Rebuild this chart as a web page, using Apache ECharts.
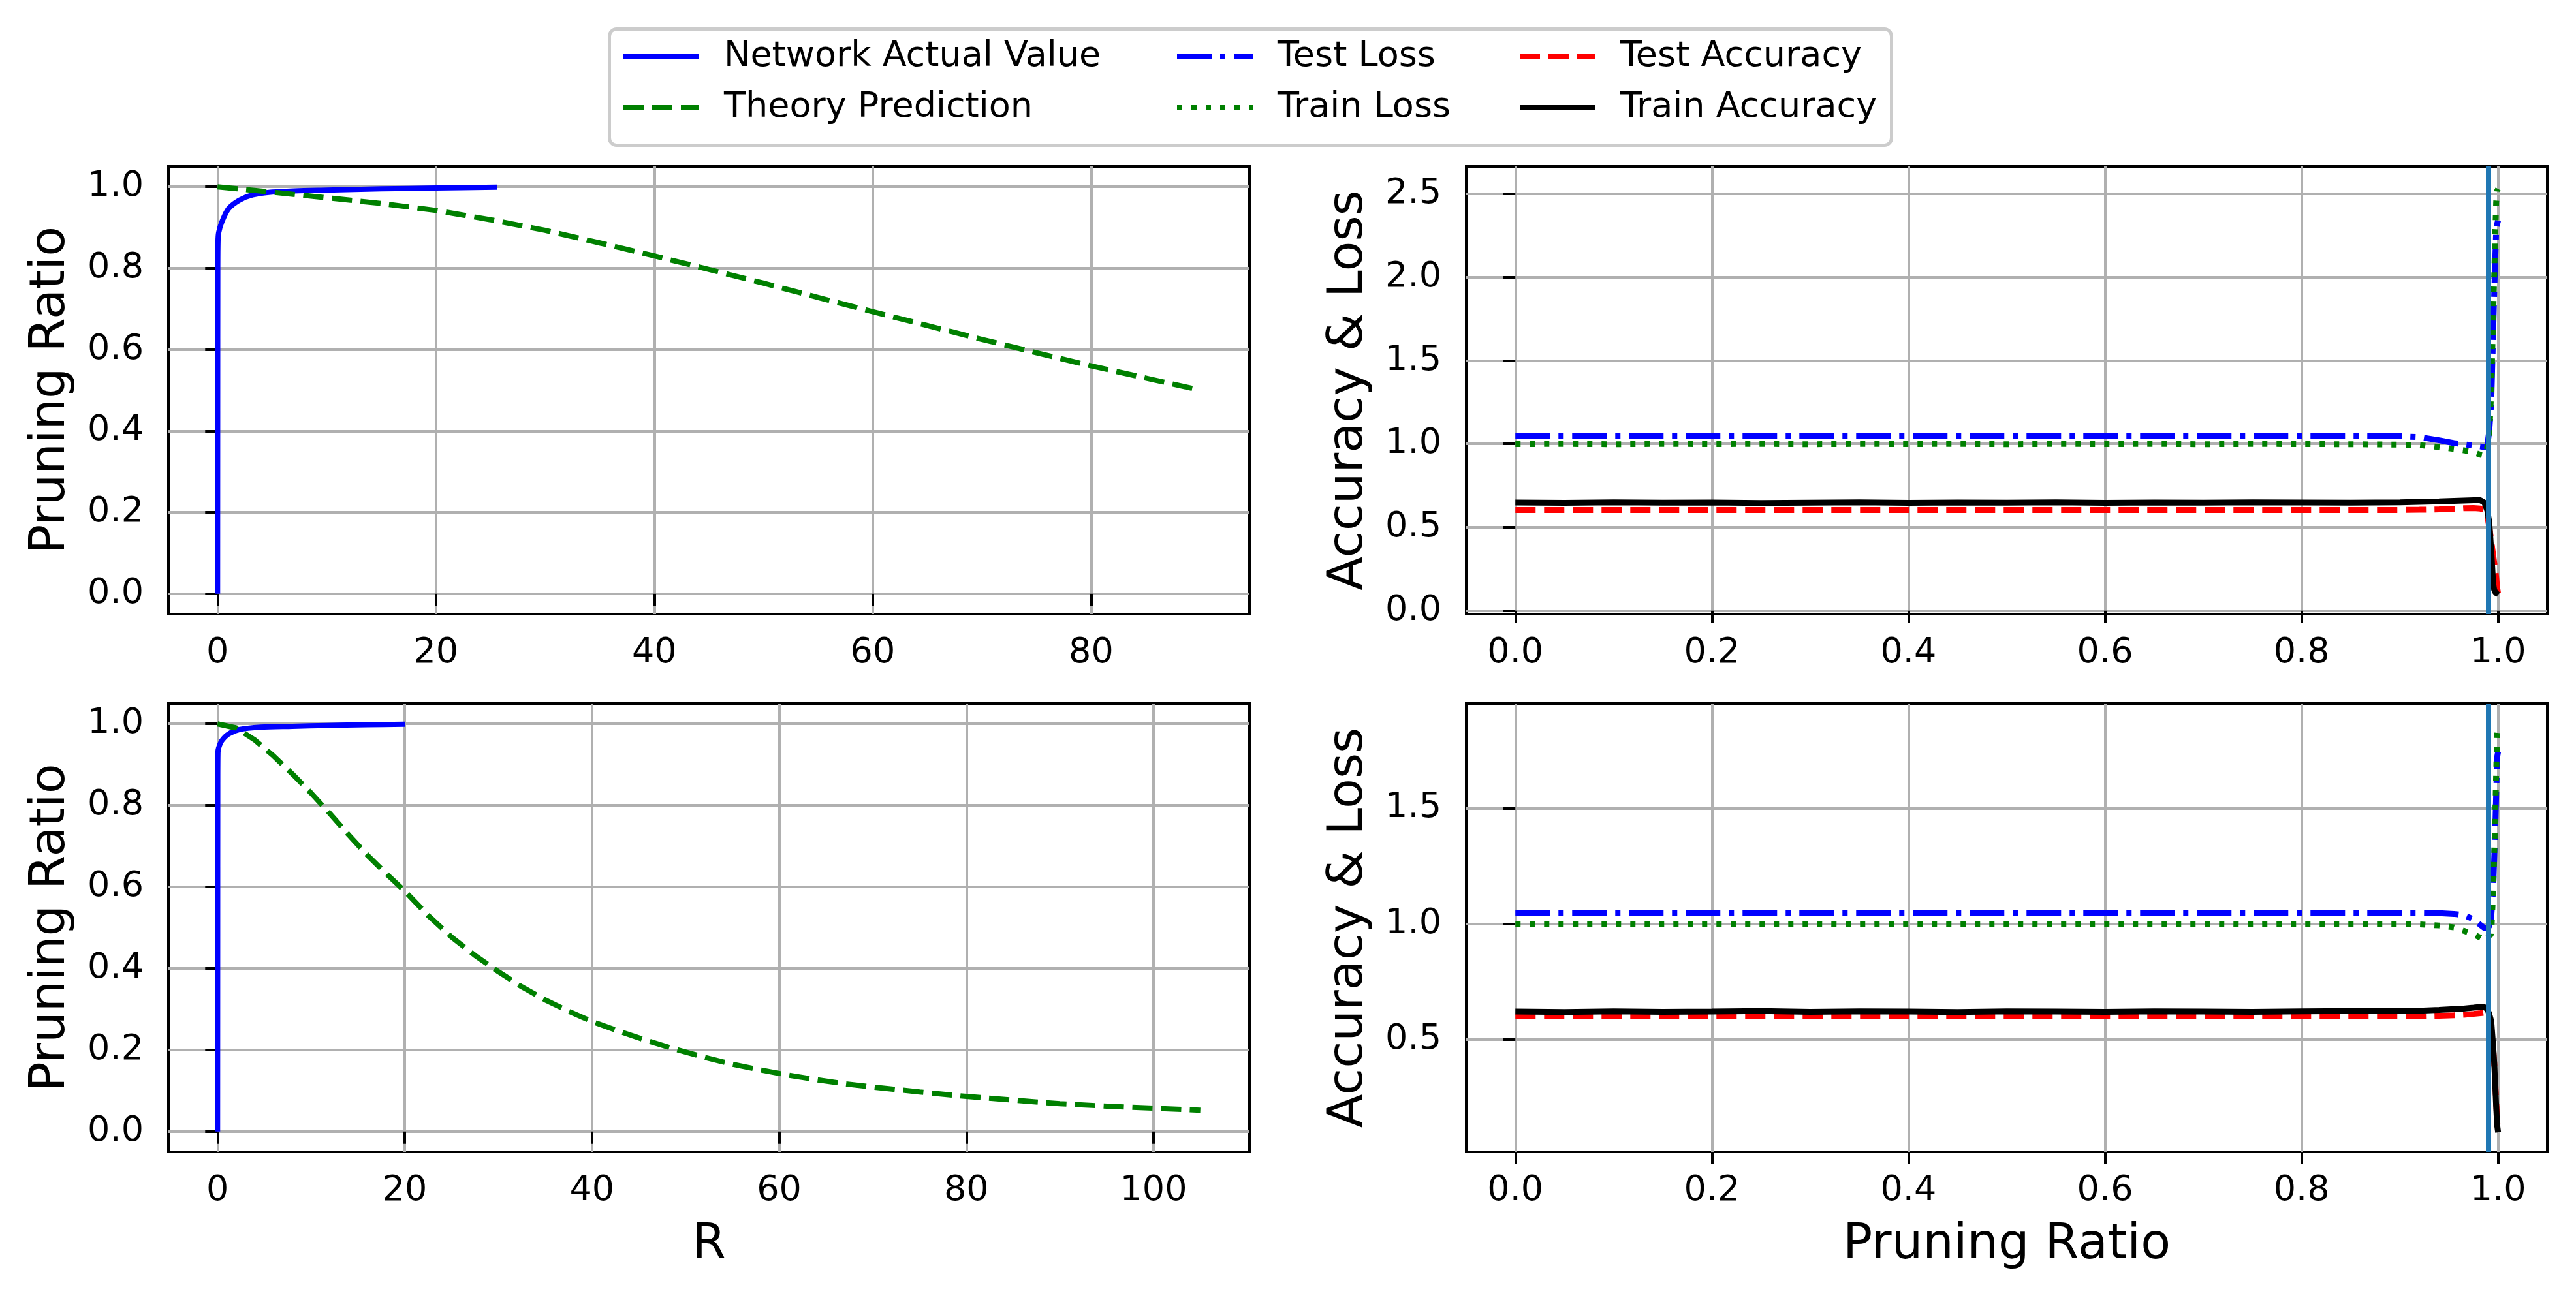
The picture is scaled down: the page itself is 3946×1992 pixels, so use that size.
<!DOCTYPE html>
<html>
<head>
<meta charset="utf-8">
<script src="https://cdn.jsdelivr.net/npm/echarts@6/dist/echarts.min.js"></script>
<style>
  html, body { margin: 0; padding: 0; background: #fff; }
  #chart { width: 3946px; height: 1992px; }
</style>
</head>
<body>
<div id="chart"></div>
<script>
// ---- values ----

// top-left panel (x = R)
const netR_top    = [0, 0.01, 0.02, 0.04, 0.1, 0.4, 1, 2, 3.2, 5, 7, 10, 15, 20, 25.6];
const net_top     = [0, 0.45, 0.80, 0.866, 0.887, 0.914, 0.946, 0.967, 0.980, 0.987, 0.990, 0.992, 0.995, 0.997, 0.999];
const theoryR_top = [0, 5, 10, 15, 20, 25, 30, 35, 40, 45, 50, 55, 60, 65, 70, 75, 80, 85, 90];
const theory_top  = [1.0, 0.987, 0.973, 0.959, 0.942, 0.919, 0.893, 0.862, 0.830, 0.797, 0.763, 0.728, 0.693, 0.659, 0.625, 0.592, 0.560, 0.530, 0.500];

// bottom-left panel (x = R)
const netR_bot    = [0, 0.01, 0.02, 0.04, 0.1, 0.46, 1.16, 2.3, 4.6, 8, 11.6, 16, 20];
const net_bot     = [0, 0.45, 0.85, 0.929, 0.940, 0.959, 0.975, 0.986, 0.992, 0.994, 0.996, 0.998, 0.999];
const theoryR_bot = [0, 2, 4, 6, 8, 10, 12, 14, 16, 18, 20, 22.5, 25, 27.5, 30, 32.5, 35, 37.5, 40, 43, 46, 49, 52, 55, 58, 61, 64, 67, 70, 75, 80, 85, 90, 95, 100, 105];
const theory_bot  = [1.0, 0.99, 0.96, 0.921, 0.877, 0.83, 0.78, 0.728, 0.678, 0.633, 0.59, 0.53, 0.477, 0.432, 0.392, 0.355, 0.323, 0.295, 0.27, 0.245, 0.222, 0.201, 0.182, 0.165, 0.151, 0.138, 0.127, 0.117, 0.109, 0.097, 0.086, 0.077, 0.068, 0.062, 0.057, 0.052];

// right panels share one x grid (pruning ratio)
const ratio = [0, 0.05, 0.1, 0.15, 0.2, 0.25, 0.3, 0.35, 0.4, 0.45, 0.5, 0.55, 0.6, 0.65, 0.7, 0.75, 0.8, 0.85, 0.9,
               0.92, 0.94, 0.955, 0.965, 0.975, 0.982, 0.986, 0.989, 0.991, 0.993, 0.995, 0.996, 0.997, 0.998, 0.999, 1.0];

// top-right panel
const testLoss_top  = [1.047, 1.047, 1.047, 1.047, 1.047, 1.047, 1.047, 1.047, 1.047, 1.047, 1.047, 1.047, 1.047, 1.047, 1.047, 1.047, 1.047, 1.047, 1.046,
                       1.041, 1.022, 1.005, 0.998, 0.990, 0.985, 0.981, 0.990, 1.08, 1.25, 1.68, 1.90, 2.10, 2.28, 2.32, 2.34];
const trainLoss_top = [0.999, 1.0, 0.998, 1.0, 0.999, 1.0, 0.998, 1.0, 0.999, 1.0, 0.998, 1.0, 0.999, 1.0, 0.998, 1.0, 0.999, 0.998, 0.996,
                       0.993, 0.981, 0.970, 0.962, 0.950, 0.935, 0.930, 0.980, 1.06, 1.32, 1.78, 2.00, 2.25, 2.45, 2.52, 2.53];
const testAcc_top   = [0.604, 0.604, 0.604, 0.604, 0.604, 0.604, 0.604, 0.604, 0.604, 0.604, 0.604, 0.604, 0.604, 0.604, 0.604, 0.604, 0.604, 0.604, 0.604,
                       0.605, 0.607, 0.610, 0.614, 0.615, 0.612, 0.605, 0.57, 0.50, 0.42, 0.33, 0.29, 0.25, 0.20, 0.14, 0.10];
const trainAcc_top  = [0.649, 0.647, 0.650, 0.648, 0.649, 0.646, 0.648, 0.650, 0.647, 0.649, 0.648, 0.650, 0.647, 0.649, 0.648, 0.650, 0.649, 0.648, 0.650,
                       0.652, 0.655, 0.658, 0.660, 0.662, 0.662, 0.648, 0.60, 0.53, 0.36, 0.16, 0.125, 0.112, 0.105, 0.10, 0.095];

// bottom-right panel
const testLoss_bot  = [1.047, 1.047, 1.047, 1.047, 1.047, 1.047, 1.047, 1.047, 1.047, 1.047, 1.047, 1.047, 1.047, 1.047, 1.047, 1.047, 1.047, 1.047, 1.047,
                       1.047, 1.046, 1.043, 1.038, 1.020, 0.995, 0.982, 0.982, 0.990, 1.03, 1.15, 1.28, 1.40, 1.56, 1.72, 1.745];
const trainLoss_bot = [1.0, 0.999, 1.0, 0.998, 1.0, 0.999, 1.0, 0.998, 1.0, 0.999, 1.0, 0.998, 1.0, 0.999, 1.0, 0.998, 1.0, 0.999, 0.999,
                       0.998, 0.993, 0.985, 0.970, 0.955, 0.940, 0.930, 0.935, 0.950, 0.955, 1.15, 1.30, 1.45, 1.65, 1.82, 1.86];
const testAcc_bot   = [0.600, 0.600, 0.600, 0.600, 0.600, 0.600, 0.600, 0.600, 0.600, 0.600, 0.600, 0.600, 0.600, 0.600, 0.600, 0.600, 0.600, 0.600, 0.600,
                       0.601, 0.603, 0.605, 0.607, 0.611, 0.614, 0.616, 0.610, 0.590, 0.55, 0.46, 0.40, 0.32, 0.23, 0.15, 0.10];
const trainAcc_bot  = [0.621, 0.619, 0.622, 0.620, 0.621, 0.623, 0.620, 0.622, 0.621, 0.619, 0.622, 0.621, 0.620, 0.622, 0.621, 0.620, 0.622, 0.623, 0.624,
                       0.625, 0.628, 0.632, 0.634, 0.638, 0.641, 0.640, 0.632, 0.610, 0.58, 0.47, 0.40, 0.31, 0.21, 0.13, 0.099];

// vertical marker on the right panels
const cutRatio = 0.987;

// tick labels
const rTicks_top = [0, 20, 40, 60, 80];
const rTicks_bot = [0, 20, 40, 60, 80, 100];
const ratioTicks = [0, 0.2, 0.4, 0.6, 0.8, 1.0];
const prTicks    = [0, 0.2, 0.4, 0.6, 0.8, 1.0];
const alTicks_top = [0, 0.5, 1.0, 1.5, 2.0, 2.5];
const alTicks_bot = [0.5, 1.0, 1.5];

// ---- chart ----
(function() {
    const chart = echarts.init(document.getElementById('chart'), null, { renderer: 'canvas' });
    const FONT = 'DejaVu Sans';
    const pairs = (xs, ys) => xs.map((x, i) => [x, ys[i]]);

    // matplotlib-like dash patterns at lw 1.5pt, 400 dpi
    const DASHED  = [31, 13];
    const DASHDOT = [53, 13, 8, 13];
    const DOTTED  = [8, 14];

    const grids = [
        { left: 258,  top: 255,  width: 1656, height: 686 },
        { left: 2246, top: 255,  width: 1656, height: 686 },
        { left: 258,  top: 1078, width: 1656, height: 687 },
        { left: 2246, top: 1078, width: 1656, height: 687 }
    ].map(g => Object.assign(g, {
        show: true, borderColor: '#000', borderWidth: 4, backgroundColor: '#fff',
        containLabel: false, outerBoundsMode: 'none'
    }));

    const axisCommon = (ticks, fmt) => ({
        type: 'value',
        axisLine: { show: false },
        axisTick: { show: true, length: 19, customValues: ticks, lineStyle: { color: '#000', width: 4 } },
        axisLabel: { customValues: ticks, formatter: fmt, color: '#000', fontSize: 54, fontFamily: FONT },
        splitLine: { show: true, lineStyle: { color: '#b0b0b0', width: 4 } },
        nameMoveOverlap: false
    });
    const fmtInt = v => String(Math.round(v));
    const fmt1 = v => v.toFixed(1);
    const nameStyle = { fontSize: 75, fontFamily: FONT, color: '#000' };

    const xAxis = [
        Object.assign(axisCommon(rTicks_top, fmtInt), { gridIndex: 0, min: -4.5, max: 94.5 }),
        Object.assign(axisCommon(prTicks, fmt1), { gridIndex: 1, min: -0.05, max: 1.05 }),
        Object.assign(axisCommon(rTicks_bot, fmtInt), { gridIndex: 2, min: -5.25, max: 110.25,
            name: 'R', nameLocation: 'middle', nameGap: 106, nameTextStyle: nameStyle }),
        Object.assign(axisCommon(prTicks, fmt1), { gridIndex: 3, min: -0.05, max: 1.05,
            name: 'Pruning Ratio', nameLocation: 'middle', nameGap: 106, nameTextStyle: nameStyle })
    ];
    xAxis.forEach(a => { a.axisLabel.margin = 33; });

    const yName = (name) => ({ name: name, nameLocation: 'middle', nameGap: 142, nameTextStyle: nameStyle });
    const yAxis = [
        Object.assign(axisCommon(ratioTicks, fmt1), { gridIndex: 0, min: -0.05, max: 1.05 }, yName('Pruning Ratio')),
        Object.assign(axisCommon(alTicks_top, fmt1), { gridIndex: 1, min: -0.021, max: 2.665 }, yName('Accuracy & Loss')),
        Object.assign(axisCommon(ratioTicks, fmt1), { gridIndex: 2, min: -0.05, max: 1.05 }, yName('Pruning Ratio')),
        Object.assign(axisCommon(alTicks_bot, fmt1), { gridIndex: 3, min: 0.015, max: 1.952 }, yName('Accuracy & Loss'))
    ];
    yAxis.forEach(a => { a.axisLabel.margin = 38; });

    const line = (name, idx, data, color, type, width, smooth) => ({
        name: name, type: 'line', xAxisIndex: idx, yAxisIndex: idx,
        data: data, showSymbol: false, symbol: 'none', smooth: smooth || false,
        lineStyle: { color: color, width: width || 8, type: type || 'solid', cap: 'butt' },
        itemStyle: { color: color },
        silent: true
    });

    const vline = idx => ({
        type: 'line', xAxisIndex: idx, yAxisIndex: idx, data: [], z: 5, silent: true,
        markLine: {
            silent: true, symbol: ['none', 'none'], animation: false,
            label: { show: false },
            lineStyle: { color: '#1f77b4', width: 8, type: 'solid' },
            data: [{ xAxis: cutRatio }]
        }
    });

    const series = [
        line('Network Actual Value', 0, pairs(netR_top, net_top), '#0000ff', 'solid', 8, 0.3),
        line('Theory Prediction', 0, pairs(theoryR_top, theory_top), '#008000', DASHED),
        line('Network Actual Value', 2, pairs(netR_bot, net_bot), '#0000ff', 'solid', 8, 0.3),
        line('Theory Prediction', 2, pairs(theoryR_bot, theory_bot), '#008000', DASHED),

        line('Test Loss', 1, pairs(ratio, testLoss_top), '#0000ff', DASHDOT, 9),
        line('Train Loss', 1, pairs(ratio, trainLoss_top), '#008000', DOTTED, 9),
        line('Test Accuracy', 1, pairs(ratio, testAcc_top), '#ff0000', DASHED, 9),
        line('Train Accuracy', 1, pairs(ratio, trainAcc_top), '#000000', 'solid', 9),
        vline(1),

        line('Test Loss', 3, pairs(ratio, testLoss_bot), '#0000ff', DASHDOT, 9),
        line('Train Loss', 3, pairs(ratio, trainLoss_bot), '#008000', DOTTED, 9),
        line('Test Accuracy', 3, pairs(ratio, testAcc_bot), '#ff0000', DASHED, 9),
        line('Train Accuracy', 3, pairs(ratio, trainAcc_bot), '#000000', 'solid', 9),
        vline(3)
    ];

    const legendBase = {
        orient: 'vertical', top: 57, padding: 0, itemGap: 18,
        itemWidth: 116, itemHeight: 20, selectedMode: false,
        itemStyle: { opacity: 0 },
        lineStyle: { width: 8 },
        textStyle: { fontSize: 54, fontFamily: FONT, color: '#000', lineHeight: 60, padding: [0, 0, 0, 33] }
    };
    const legend = [
        Object.assign({}, legendBase, { left: 951,  data: ['Network Actual Value', 'Theory Prediction'] }),
        Object.assign({}, legendBase, { left: 1799, data: ['Test Loss', 'Train Loss'] }),
        Object.assign({}, legendBase, { left: 2324, data: ['Test Accuracy', 'Train Accuracy'] })
    ];

    chart.setOption({
        backgroundColor: '#fff',
        animation: false,
        grid: grids,
        xAxis: xAxis,
        yAxis: yAxis,
        legend: legend,
        // legend frame around the three columns
        graphic: [{
            type: 'rect', left: 931, top: 42, z: 0, silent: true,
            shape: { width: 1964, height: 178, r: 11 },
            style: { fill: '#fff', stroke: '#cccccc', lineWidth: 5 }
        }],
        series: series
    });
})();
</script>
</body>
</html>
